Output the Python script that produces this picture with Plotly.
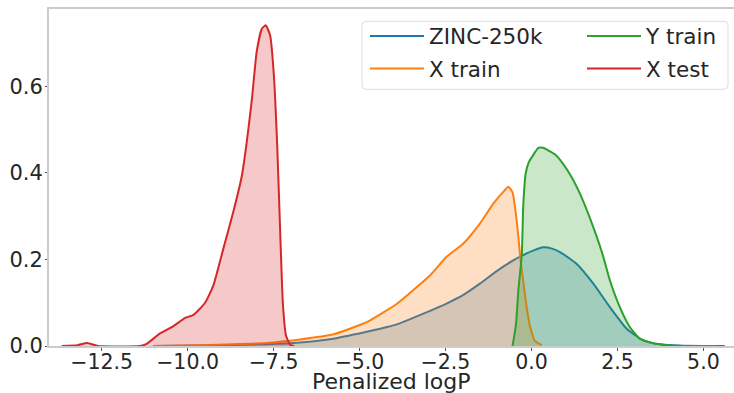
import plotly.graph_objects as go

# ---- data ----
zinc_x = [-11.0, -9.6, -7.7, -6.73, -5.76, -4.79, -4.40, -3.92, -3.44, -2.95, -2.47, -1.98, -1.50, -1.01,
          -0.53, -0.24, 0.10, 0.34, 0.60, 0.83, 1.31, 1.80, 2.28, 2.77, 3.25, 3.74, 4.3, 5.0, 5.62]
zinc_y = [0.0, 0.001, 0.004, 0.008, 0.017, 0.033, 0.040, 0.050, 0.065, 0.081, 0.098, 0.118, 0.144, 0.173,
          0.198, 0.210, 0.222, 0.228, 0.225, 0.217, 0.190, 0.144, 0.090, 0.040, 0.013, 0.004, 0.001, 0.0, 0.0]

xtrain_x = [-11.0, -9.64, -7.70, -6.73, -5.76, -4.79, -4.40, -3.92, -3.44, -2.95, -2.47, -1.98, -1.50,
            -1.11, -0.80, -0.67, -0.55, -0.48, -0.38, -0.32, -0.24, -0.14, -0.04, 0.10, 0.30]
xtrain_y = [0.0, 0.002, 0.007, 0.015, 0.027, 0.055, 0.073, 0.097, 0.129, 0.163, 0.206, 0.237, 0.283,
            0.329, 0.358, 0.368, 0.355, 0.322, 0.252, 0.200, 0.150, 0.090, 0.045, 0.012, 0.002]

ytrain_x = [-0.55, -0.45, -0.38, -0.28, -0.24, -0.17, -0.07, 0.05, 0.20, 0.34, 0.49, 0.68, 0.92, 1.17,
            1.41, 1.65, 1.90, 2.09, 2.28, 2.57, 2.86, 3.15, 3.54, 3.93, 4.5, 5.38]
ytrain_y = [0.0, 0.05, 0.129, 0.213, 0.321, 0.398, 0.426, 0.441, 0.458, 0.458, 0.452, 0.443, 0.421, 0.390,
            0.352, 0.306, 0.252, 0.206, 0.152, 0.090, 0.044, 0.017, 0.006, 0.002, 0.0, 0.0]

xtest_x = [-13.66, -13.2, -12.93, -12.6, -11.38, -11.19, -10.80, -10.41, -10.07, -9.83, -9.49, -9.25,
           -8.96, -8.67, -8.42, -8.28, -8.13, -7.99, -7.84, -7.73, -7.60, -7.49, -7.39, -7.31, -7.23,
           -7.14, -7.02, -6.90]
xtest_y = [0.0, 0.002, 0.007, 0.0, 0.0, 0.005, 0.029, 0.046, 0.065, 0.072, 0.100, 0.140,
           0.225, 0.310, 0.394, 0.471, 0.570, 0.680, 0.733, 0.741, 0.718, 0.625, 0.456, 0.271, 0.100,
           0.025, 0.003, 0.0]

series_names = ["ZINC-250k", "X train", "Y train", "X test"]
series_x = [zinc_x, xtrain_x, ytrain_x, xtest_x]
series_y = [zinc_y, xtrain_y, ytrain_y, xtest_y]
colors = ["#1f77b4", "#ff7f0e", "#2ca02c", "#d62728"]
fills = ["rgba(31,119,180,0.25)", "rgba(255,127,14,0.25)", "rgba(44,160,44,0.25)", "rgba(214,39,40,0.25)"]

x_ticks = [-12.5, -10.0, -7.5, -5.0, -2.5, 0.0, 2.5, 5.0]
y_ticks = [0.0, 0.2, 0.4, 0.6]
x_title = "Penalized logP"

FONT = "DejaVu Sans"
TXT = "#262626"

fig = go.Figure()
for nm, xs, ys, c, f in zip(series_names, series_x, series_y, colors, fills):
    fig.add_trace(go.Scatter(x=xs, y=ys, mode="lines", line=dict(color=c, width=2, shape="spline", smoothing=0.5),
                             fill="tozeroy", fillcolor=f, showlegend=False, hoverinfo="skip"))

# legend-only line entries, each in its own legend box for 2-column layout
legend_ids = ["legend", "legend3", "legend2", "legend4"]  # ZINC, X train (col1); Y train, X test (col2)
for nm, c, lid in zip(series_names, colors, legend_ids):
    fig.add_trace(go.Scatter(x=[None], y=[None], mode="lines", line=dict(color=c, width=2),
                             name=nm, legend=lid, showlegend=True))

W, H = 734, 393
L, R, T, B = 49, 0, 9, 47
pw, ph = W - L - R, H - T - B

def px2paper_x(px):
    return (px - L) / pw

def px2paper_y(py):
    return (H - B - py) / ph

leg_common = dict(bgcolor="rgba(0,0,0,0)", borderwidth=0, font=dict(family=FONT, size=21.5, color=TXT),
                  xanchor="left", yanchor="middle", itemwidth=54)
col_x = [365, 582]
row_y = [36, 68.5]
fig.update_layout(
    legend=dict(x=px2paper_x(col_x[0]), y=px2paper_y(row_y[0]), **leg_common),
    legend3=dict(x=px2paper_x(col_x[0]), y=px2paper_y(row_y[1]), **leg_common),
    legend2=dict(x=px2paper_x(col_x[1]), y=px2paper_y(row_y[0]), **leg_common),
    legend4=dict(x=px2paper_x(col_x[1]), y=px2paper_y(row_y[1]), **leg_common),
)

# rounded legend frame
x0, x1 = px2paper_x(362), px2paper_x(728)
y0, y1 = px2paper_y(89.3), px2paper_y(21.3)
rx, ry = 4 / pw, 4 / ph
path = (f"M{x0+rx},{y0} L{x1-rx},{y0} Q{x1},{y0} {x1},{y0+ry} L{x1},{y1-ry} Q{x1},{y1} {x1-rx},{y1} "
        f"L{x0+rx},{y1} Q{x0},{y1} {x0},{y1-ry} L{x0},{y0+ry} Q{x0},{y0} {x0+rx},{y0} Z")
fig.add_shape(type="path", path=path, xref="paper", yref="paper",
              fillcolor="rgba(255,255,255,0.8)", line=dict(color="#dddddd", width=1), layer="above")

# x-axis title as annotation for exact placement below tick labels
fig.add_annotation(text=x_title, xref="paper", yref="paper", x=0.5, y=px2paper_y(381.5),
                   xanchor="center", yanchor="middle", showarrow=False,
                   font=dict(family=FONT, size=22, color=TXT))

fig.update_layout(
    width=W, height=H,
    margin=dict(l=L, r=R, t=T, b=B, pad=0),
    paper_bgcolor="white", plot_bgcolor="white",
    font=dict(family=FONT, size=21, color=TXT),
    xaxis=dict(range=[-14.03, 5.89], tickvals=x_ticks, ticktext=[("\u2212" if v < 0 else "") + f"{abs(v):.1f}" for v in x_ticks],
               showgrid=False, zeroline=False, showline=True, linecolor="#cccccc", linewidth=2, mirror=True,
               ticks="outside", ticklen=3, tickwidth=1, tickcolor="#555555", ticklabelstandoff=-7,
               tickfont=dict(family=FONT, size=20.5, color=TXT)),
    yaxis=dict(range=[0, 0.7787], tickvals=y_ticks, ticktext=[f"{v:.1f}" for v in y_ticks],
               showgrid=False, zeroline=False, showline=True, linecolor="#cccccc", linewidth=2,
               ticks="outside", ticklen=2, tickwidth=1, tickcolor="#555555", ticklabelstandoff=-2,
               tickfont=dict(family=FONT, size=21, color=TXT)),
)

fig.write_html("out.html")
